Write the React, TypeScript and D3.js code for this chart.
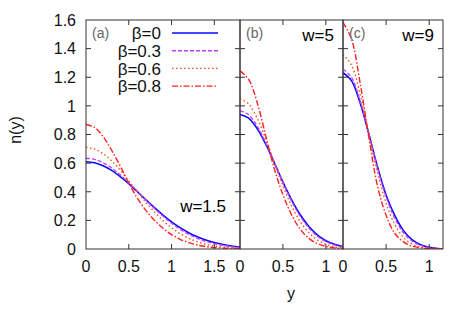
import * as d3 from 'd3'

// sampled positions
const xsA = [0, 0.1, 0.2, 0.3, 0.4, 0.5, 0.6, 0.7, 0.8, 0.9, 1.0, 1.1, 1.2, 1.3, 1.4, 1.5, 1.6, 1.7, 1.8]
const xsBC = [0, 0.1, 0.2, 0.3, 0.4, 0.5, 0.6, 0.7, 0.8, 0.9, 1.0, 1.1, 1.2]

// panel (a), w=1.5
const a0 = [0.61, 0.603, 0.582, 0.549, 0.506, 0.456, 0.4, 0.344, 0.289, 0.237, 0.19, 0.149, 0.114, 0.086, 0.063, 0.045, 0.031, 0.021, 0.014]
const a3 = [0.634, 0.626, 0.603, 0.566, 0.518, 0.462, 0.403, 0.342, 0.283, 0.229, 0.18, 0.138, 0.103, 0.075, 0.053, 0.037, 0.025, 0.016, 0.011]
const a6 = [0.71, 0.699, 0.666, 0.616, 0.551, 0.476, 0.4, 0.327, 0.259, 0.199, 0.148, 0.107, 0.075, 0.051, 0.033, 0.021, 0.013, 0.008, 0.005]
const a8 = [0.87, 0.85, 0.785, 0.69, 0.58, 0.46, 0.355, 0.27, 0.2, 0.145, 0.1, 0.068, 0.045, 0.028, 0.017, 0.01, 0.006, 0.003, 0.002]

// panel (b), w=5
const b0 = [0.94, 0.914, 0.841, 0.732, 0.602, 0.469, 0.345, 0.241, 0.159, 0.099, 0.058, 0.033, 0.017]
const b3 = [0.966, 0.938, 0.859, 0.742, 0.604, 0.464, 0.336, 0.23, 0.148, 0.09, 0.052, 0.028, 0.014]
const b6 = [1.05, 1.014, 0.914, 0.769, 0.603, 0.442, 0.302, 0.193, 0.115, 0.064, 0.033, 0.016, 0.007]
const b8 = [1.245, 1.186, 1.024, 0.79, 0.56, 0.38, 0.24, 0.14, 0.075, 0.038, 0.018, 0.008, 0.003]

// panel (c), w=9
const c0 = [1.232, 1.175, 1.018, 0.803, 0.575, 0.378, 0.235, 0.13, 0.065, 0.03, 0.012, 0.004, 0.001]
const c3 = [1.258, 1.197, 1.031, 0.804, 0.568, 0.365, 0.215, 0.115, 0.056, 0.025, 0.01, 0.003, 0.001]
const c6 = [1.36, 1.283, 1.078, 0.806, 0.537, 0.32, 0.172, 0.082, 0.035, 0.014, 0.005, 0.002, 0.0005]
const c8 = [1.584, 1.464, 1.156, 0.78, 0.44, 0.235, 0.11, 0.05, 0.02, 0.008, 0.003, 0.001, 0]

const betaLabels = ['β=0', 'β=0.3', 'β=0.6', 'β=0.8']
const colors = ['#0a0aff', '#c040ff', '#e8561a', '#ff2020']
const dashes = ['none', '4,2', '1.5,2.5', '6,2,1.5,2']

const yTicks = [0, 0.2, 0.4, 0.6, 0.8, 1, 1.2, 1.4, 1.6]

const panels = [
  { tag: '(a)', w: 'w=1.5', xMax: 1.8, ticks: [0, 0.5, 1, 1.5], xs: xsA, series: [a0, a3, a6, a8], left: 86, right: 240 },
  { tag: '(b)', w: 'w=5', xMax: 1.2, ticks: [0, 0.5, 1], xs: xsBC, series: [b0, b3, b6, b8], left: 240, right: 343 },
  { tag: '(c)', w: 'w=9', xMax: 1.16, ticks: [0, 0.5, 1], xs: xsBC, series: [c0, c3, c6, c8], left: 343, right: 443 },
]

const TOP = 20
const BOTTOM = 249
const FONT = '"Liberation Sans", Arial, sans-serif'
const AXIS = '#333'

export default function App() {
  const y = d3.scaleLinear().domain([0, 1.6]).range([BOTTOM, TOP])

  return (
    <svg width={457} height={319} style={{ position: 'absolute', left: 0, top: 0, background: '#fff' }} fontFamily={FONT}>
      {/* y tick labels */}
      {yTicks.map(t => (
        <text key={t} x={76} y={y(t)} dy="0.36em" textAnchor="end" fontSize={16} fill="#111">{t}</text>
      ))}
      <text transform={`translate(21,130) rotate(-90)`} textAnchor="middle" fontSize={16} fill="#111">n(y)</text>
      <text x={291} y={299} textAnchor="middle" fontSize={16} fill="#111">y</text>

      {panels.map((p, pi) => {
        const x = d3.scaleLinear().domain([0, p.xMax]).range([p.left, p.right])
        const line = d3.line<number>()
          .x((_, i) => x(p.xs[i]))
          .y(d => y(d))
          .curve(d3.curveCatmullRom.alpha(0.5))
        return (
          <g key={pi}>
            <defs>
              <clipPath id={`clip${pi}`}>
                <rect x={p.left} y={TOP} width={p.right - p.left} height={BOTTOM - TOP} />
              </clipPath>
            </defs>
            <g clipPath={`url(#clip${pi})`}>
              {p.series.map((s, si) => (
                <path key={si} d={line(s) || ''} fill="none" stroke={colors[si]}
                  strokeWidth={si === 0 ? 1.6 : 1.4} strokeDasharray={dashes[si]} />
              ))}
            </g>
            {/* frame */}
            <rect x={p.left} y={TOP} width={p.right - p.left} height={BOTTOM - TOP} fill="none" stroke={AXIS} strokeWidth={1} />
            {/* y ticks on both sides */}
            {yTicks.slice(1, -1).map(t => (
              <g key={t}>
                <line x1={p.left} x2={p.left + 5} y1={y(t)} y2={y(t)} stroke={AXIS} />
                <line x1={p.right - 5} x2={p.right} y1={y(t)} y2={y(t)} stroke={AXIS} />
              </g>
            ))}
            {/* x ticks */}
            {p.ticks.map(t => (
              <g key={t}>
                {t > 0 && <line x1={x(t)} x2={x(t)} y1={BOTTOM} y2={BOTTOM - 5} stroke={AXIS} />}
                {t > 0 && <line x1={x(t)} x2={x(t)} y1={TOP} y2={TOP + 5} stroke={AXIS} />}
                <text x={x(t)} y={272} textAnchor="middle" fontSize={16} fill="#111">{t}</text>
              </g>
            ))}
            <text x={p.left + 6} y={38} fontSize={14} fill="#666">{p.tag}</text>
            {pi > 0 && <text x={p.right - 9} y={41} textAnchor="end" fontSize={17} fill="#000">{p.w}</text>}
            {pi === 0 && <text x={226} y={212} textAnchor="end" fontSize={17} fill="#000">{p.w}</text>}
          </g>
        )
      })}

      {/* legend */}
      {betaLabels.map((lab, i) => {
        const ly = 33 + i * 17.7
        return (
          <g key={lab}>
            <text x={161} y={ly} dy="0.36em" textAnchor="end" fontSize={17} fill="#111">{lab}</text>
            <line x1={172} x2={218} y1={ly} y2={ly} stroke={colors[i]} strokeWidth={i === 0 ? 1.6 : 1.4} strokeDasharray={dashes[i]} />
          </g>
        )
      })}
    </svg>
  )
}
